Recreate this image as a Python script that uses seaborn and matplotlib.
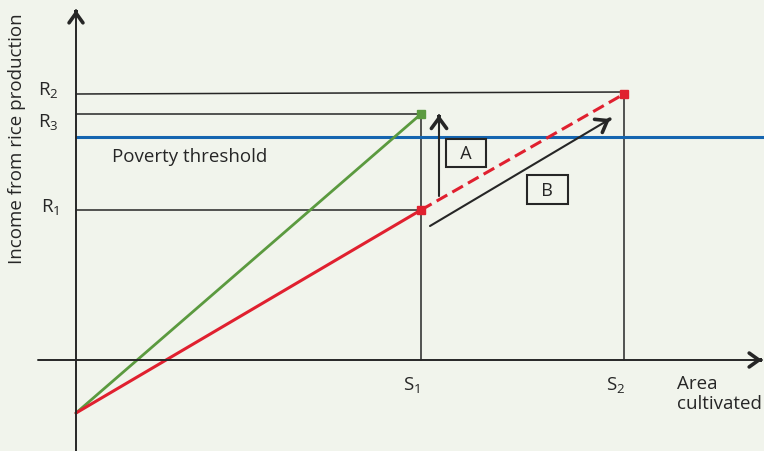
import matplotlib
matplotlib.use("Agg")
import matplotlib.pyplot as plt
import seaborn as sns
import pandas as pd

# ---- data (arbitrary units) ----
S_labels = ["S$_1$", "S$_2$"]
S_values = [3.45, 5.48]
R_labels = ["R$_1$", "R$_2$", "R$_3$"]
R1, R2, R3 = 1.50, 2.66, 2.46
intercept = -0.53
poverty = 2.23

green_x = [0.0, 3.45]
green_y = [intercept, R3]
red_solid_x = [0.0, 3.45]
red_solid_y = [intercept, R1]
red_dash_x = [3.45, 5.48]
red_dash_y = [R1, R2]

BG = "#f1f4ec"
sns.set_style("white", {"axes.facecolor": BG, "figure.facecolor": BG})
plt.rcParams["font.family"] = ["Open Sans", "DejaVu Sans"]
plt.rcParams["mathtext.default"] = "regular"

fig = plt.figure(figsize=(7.64, 4.52), dpi=100)
ax = fig.add_axes([0, 0, 1, 1])
ax.set_xlim(-0.76, 6.88)
ax.set_ylim(-0.91, 3.61)
ax.axis("off")

dark = "#262626"
GREEN = "#5b9a3f"
RED = "#e0202f"
BLUE = "#1565b0"


def arrow(x0, y0, x1, y1, lw=1.4, hlw=2.6, hl=0.7, hw=0.5):
    ax.annotate("", xy=(x1, y1), xytext=(x0, y0), annotation_clip=False,
                arrowprops=dict(arrowstyle="-", lw=lw, color=dark, shrinkA=0, shrinkB=0))
    fx = x1 - (x1 - x0) * 0.001
    fy = y1 - (y1 - y0) * 0.001
    ax.annotate("", xy=(x1, y1), xytext=(fx, fy), annotation_clip=False,
                arrowprops=dict(arrowstyle=f"->,head_length={hl},head_width={hw}", lw=hlw,
                                color=dark, shrinkA=0, shrinkB=0, capstyle="round",
                                joinstyle="miter"))


# axes arrows
arrow(-0.38, 0, 6.86, 0)
arrow(0, -0.95, 0, 3.50)

# reference lines
ax.plot([0, S_values[1]], [R2, R2 + 0.02], color=dark, lw=1.1)
ax.plot([0, S_values[0]], [R3, R3], color=dark, lw=1.1)
ax.plot([0, S_values[0]], [R1, R1], color=dark, lw=1.1)
ax.plot([S_values[0], S_values[0]], [0, R3], color=dark, lw=1.1)
ax.plot([S_values[1], S_values[1]], [0, R2 + 0.02], color=dark, lw=1.1)
ax.plot([0, 6.88], [poverty, poverty], color=BLUE, lw=2.2)

# data lines via seaborn
df_g = pd.DataFrame({"x": green_x, "y": green_y})
df_r = pd.DataFrame({"x": red_solid_x, "y": red_solid_y})
df_d = pd.DataFrame({"x": red_dash_x, "y": red_dash_y})
sns.lineplot(data=df_g, x="x", y="y", ax=ax, color=GREEN, lw=2.0)
sns.lineplot(data=df_r, x="x", y="y", ax=ax, color=RED, lw=2.2)
sns.lineplot(data=df_d, x="x", y="y", ax=ax, color=RED, lw=2.2, dashes=False, linestyle=(0, (4, 1.9)))
ax.plot([green_x[1]], [green_y[1]], marker="s", ms=6, color=GREEN)
ax.plot([red_dash_x[0]], [red_dash_y[0]], marker="s", ms=6, color=RED)
ax.plot([red_dash_x[1]], [red_dash_y[1]], marker="s", ms=6, color=RED)
ax.set_xlabel("")
ax.set_ylabel("")

# arrows A and B
arrow(3.63, 1.64, 3.63, 2.45, lw=1.5, hlw=2.6, hl=0.75, hw=0.55)
arrow(3.54, 1.34, 5.34, 2.41, lw=1.5, hlw=2.6, hl=0.75, hw=0.55)
box = dict(boxstyle="square,pad=0.3", fc="none", ec=dark, lw=1.5)
ax.text(3.90, 2.07, "  A  ", ha="center", va="center", fontsize=13, bbox=box, color=dark)
ax.text(4.715, 1.705, "  B  ", ha="center", va="center", fontsize=13, bbox=box, color=dark)

# labels
fs = 13.5
ax.text(-0.28, 2.71, R_labels[1], ha="center", va="center", fontsize=fs, color=dark)
ax.text(-0.28, 2.39, R_labels[2], ha="center", va="center", fontsize=fs, color=dark)
ax.text(-0.26, 1.54, R_labels[0], ha="center", va="center", fontsize=fs, color=dark)
ax.text(0.36, 2.04, "Poverty threshold", ha="left", va="center", fontsize=fs, color=dark)
ax.text(S_values[0] - 0.09, -0.24, S_labels[0], ha="center", va="center", fontsize=fs, color=dark)
ax.text(S_values[1] - 0.08, -0.24, S_labels[1], ha="center", va="center", fontsize=fs, color=dark)
ax.text(6.01, -0.14, "Area\ncultivated", ha="left", va="top", fontsize=fs, color=dark, linespacing=1.15)
ax.text(-0.59, 2.22, "Income from rice production", rotation=90, ha="center", va="center",
        fontsize=fs, color=dark)

fig.savefig("out.png", dpi=100, facecolor=BG)
